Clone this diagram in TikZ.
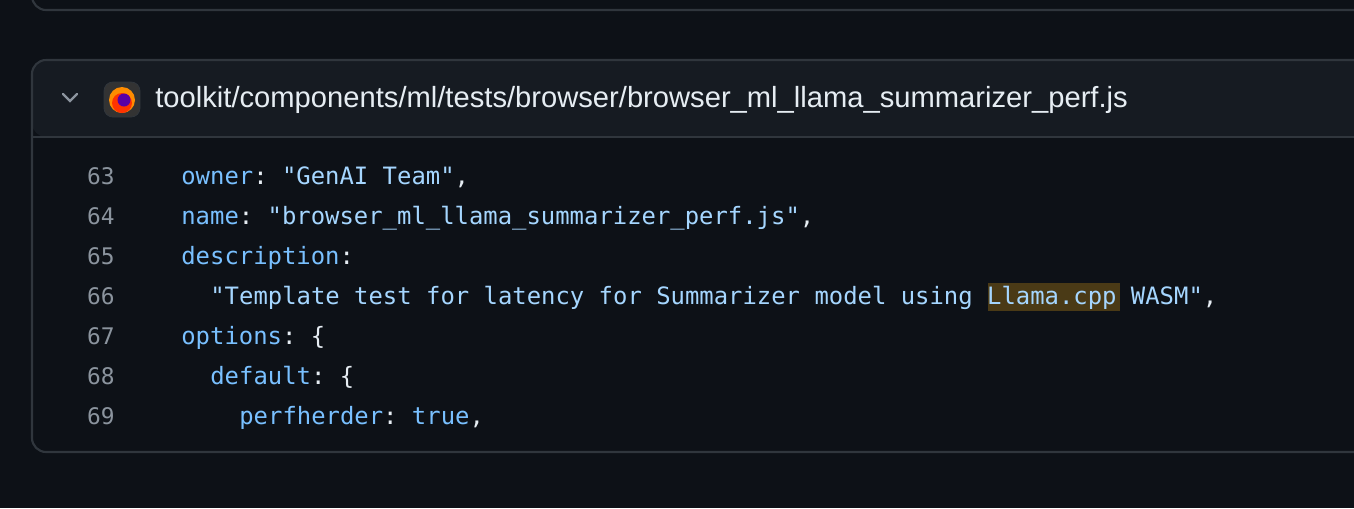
\documentclass[tikz,border=0pt]{standalone}
\usepackage{fontspec}
\setmainfont{Liberation Sans}
\setmonofont{DejaVu Sans Mono}
\usetikzlibrary{positioning}
\definecolor{bgcol}{HTML}{0D1117}
\definecolor{headcol}{HTML}{161B22}
\definecolor{bordercol}{HTML}{30363D}
\definecolor{keycol}{HTML}{79C0FF}
\definecolor{strcol}{HTML}{A5D6FF}
\definecolor{txtcol}{HTML}{E6EDF3}
\definecolor{numcol}{HTML}{8B949E}
\definecolor{hlcol}{HTML}{4A3A16}
\tikzset{
  codeline/.style={anchor=base west, inner sep=0pt, font=\ttfamily\fontsize{13.6}{14}\selectfont, text=txtcol},
  linenum/.style={anchor=base east, inner sep=0pt, font=\ttfamily\fontsize{13}{14}\selectfont, text=numcol},
  pathtext/.style={anchor=west, inner sep=0pt, font=\fontsize{16.6}{17}\selectfont, text=txtcol}
}
\newcommand{\ky}[1]{\textcolor{keycol}{#1}}
\newcommand{\st}[1]{\textcolor{strcol}{#1}}
\begin{document}
\begin{tikzpicture}[x=0.02cm, y=-0.02cm]
\useasboundingbox (0,0) rectangle (1354,508);
\fill[bgcol] (0,0) rectangle (1354,508);

% previous box, bottom edge only
\draw[bordercol, line width=1.2pt, rounded corners=8] (32,-20) -- (32,10) -- (1380,10);

% file box
\fill[headcol, rounded corners=8] (32,60) rectangle (1380,137);
\fill[bgcol] (33,137) rectangle (1380,451);
\draw[bordercol, line width=1.2pt, rounded corners=8] (32,60) rectangle (1380,452);
\draw[bordercol, line width=1.2pt] (32,137) -- (1354,137);

% header
\draw[numcol, line width=1.3pt, line cap=round] (63,94) -- (70,101) -- (77,94);
\fill[black!80, draw=bordercol, rounded corners=5] (104,82) rectangle (140,117);
\fill[orange!90!yellow] (122,100) circle (13);
\fill[red!60!orange] (122,103) circle (10);
\fill[violet!70!blue] (124,100) circle (6.5);
\node (path) [pathtext] at (155,100) {toolkit/components/ml/tests/browser/browser\_ml\_llama\_summarizer\_perf.js};

% highlight
\fill[hlcol] (988,283) rectangle (1120,311);

% code
\foreach \n [count=\i from 0] in {63,...,69}
  \node (num\n) [linenum] at (115,{184+40*\i}) {\n};
\node (c63) [codeline] at (181,184) {\ky{owner}: \st{"GenAI Team"},};
\node (c64) [codeline] at (181,224) {\ky{name}: \st{"browser\_ml\_llama\_summarizer\_perf.js"},};
\node (c65) [codeline] at (181,264) {\ky{description}:};
\node (c66) [codeline] at (210,304) {\st{"Template test for latency for Summarizer model using Llama.cpp WASM"},};
\node (c67) [codeline] at (181,344) {\ky{options}: \{};
\node (c68) [codeline] at (210,384) {\ky{default}: \{};
\node (c69) [codeline] at (239,424) {\ky{perfherder}: \ky{true},};
\end{tikzpicture}
\end{document}
